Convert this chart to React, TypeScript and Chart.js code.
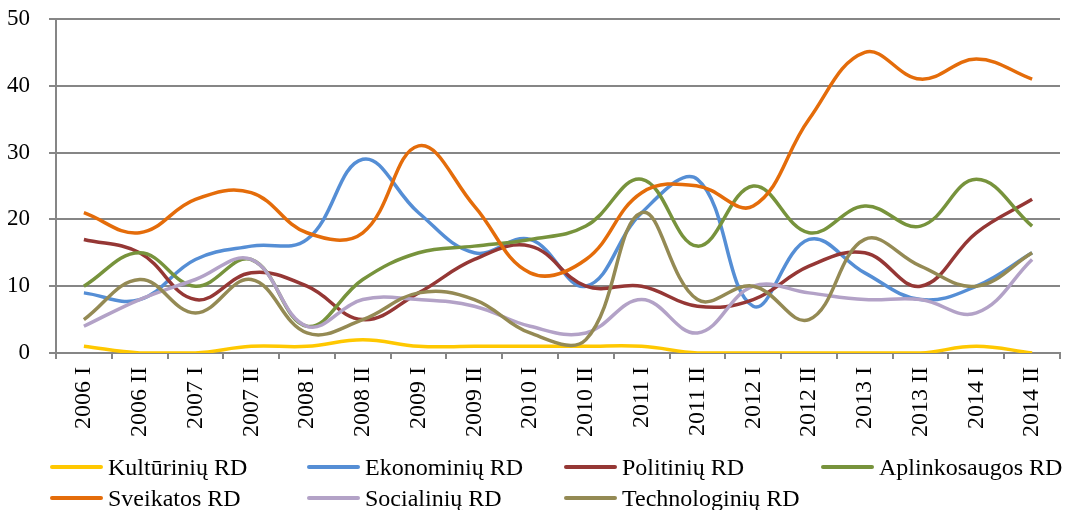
import React, { useEffect, useRef } from "react";
import { Chart, registerables } from "chart.js";

Chart.register(...registerables);

const categories = [
  "2006 I", "2006 II", "2007 I", "2007 II", "2008 I", "2008 II",
  "2009 I", "2009 II", "2010 I", "2010 II", "2011 I", "2011 II",
  "2012 I", "2012 II", "2013 I", "2013 II", "2014 I", "2014 II",
];

const kulturiniu = [1, 0, 0, 1, 1, 2, 1, 1, 1, 1, 1, 0, 0, 0, 0, 0, 1, 0];
const ekonominiu = [9, 8, 14, 16, 17, 29, 21, 15, 17, 10, 21, 26, 7, 17, 12, 8, 10, 15];
const politiniu = [17, 15, 8, 12, 10, 5, 9, 14, 16, 10, 10, 7, 8, 13, 15, 10, 18, 23];
const aplinkosaugos = [10, 15, 10, 14, 4, 11, 15, 16, 17, 19, 26, 16, 25, 18, 22, 19, 26, 19];
const sveikatos = [21, 18, 23, 24, 18, 18, 31, 22, 12, 14, 24, 25, 22, 35, 45, 41, 44, 41];
const socialiniu = [4, 8, 11, 14, 4, 8, 8, 7, 4, 3, 8, 3, 10, 9, 8, 8, 6, 14];
const technologiniu = [5, 11, 6, 11, 3, 5, 9, 8, 3, 2, 21, 8, 10, 5, 17, 13, 10, 15];

const seriesNames = [
  "Kultūrinių RD", "Ekonominių RD", "Politinių RD", "Aplinkosaugos RD",
  "Sveikatos RD", "Socialinių RD", "Technologinių RD",
];
const seriesData = [kulturiniu, ekonominiu, politiniu, aplinkosaugos, sveikatos, socialiniu, technologiniu];
const seriesColors = ["#FFC800", "#558ED5", "#953735", "#77933C", "#E46C0A", "#B3A2C7", "#948A54"];

const yTicks = [0, 10, 20, 30, 40, 50];

const FONT = '"Liberation Serif", "Times New Roman", serif';
const GRID = "#868686";

export default function App() {
  const ref = useRef<HTMLCanvasElement>(null);

  useEffect(() => {
    const canvas = ref.current;
    if (!canvas) return;
    const chart = new Chart(canvas, {
      type: "line",
      data: {
        labels: categories,
        datasets: seriesData.map((d, i) => ({
          label: seriesNames[i],
          data: d,
          borderColor: seriesColors[i],
          backgroundColor: seriesColors[i],
          borderWidth: 3.5,
          pointRadius: 0,
          tension: 0.4,
          fill: false,
          order: seriesData.length - i,
        })),
      },
      options: {
        animation: false,
        responsive: false,
        maintainAspectRatio: false,
        layout: { padding: { top: 19, right: 3, left: 0, bottom: 0 } },
        plugins: {
          legend: { display: false },
          tooltip: { enabled: false },
        },
        scales: {
          x: {
            offset: true,
            grid: {
              offset: true,
              drawOnChartArea: false,
              drawTicks: true,
              tickLength: 6,
              color: GRID,
              lineWidth: 2,
            },
            border: { color: GRID, width: 2 },
            ticks: {
              minRotation: 90,
              maxRotation: 90,
              autoSkip: false,
              padding: 8,
              color: "#000",
              font: { family: FONT, size: 24 },
            },
            afterFit: (scale: any) => {
              scale.height = 157;
            },
          },
          y: {
            min: 0,
            max: 50,
            afterBuildTicks: (scale: any) => {
              scale.ticks = yTicks.map((v) => ({ value: v }));
            },
            grid: {
              color: GRID,
              lineWidth: 2,
              tickLength: 7,
            },
            border: { color: GRID, width: 2 },
            ticks: {
              padding: 19,
              color: "#000",
              font: { family: FONT, size: 23 },
            },
            afterFit: (scale: any) => {
              scale.width = 56;
              scale.paddingTop = 12;
              scale.paddingBottom = 12;
            },
          },
        },
      },
    });
    return () => chart.destroy();
  }, []);

  return (
    <div style={{ position: "absolute", left: 0, top: 0, width: 1069, height: 510, background: "#fff" }}>
      <canvas ref={ref} width={1069} height={510} style={{ display: "block", width: 1069, height: 510 }} />
      {seriesNames.map((name, i) => {
        const col = i % 4;
        const row = Math.floor(i / 4);
        return (
          <div
            key={name}
            style={{
              position: "absolute",
              left: 50 + col * 257,
              top: 467 + row * 31 - 15,
              height: 30,
              display: "flex",
              alignItems: "center",
              fontFamily: FONT,
              fontSize: 24,
              color: "#000",
              whiteSpace: "nowrap",
            }}
          >
            <span style={{ display: "inline-block", width: 53, height: 4, borderRadius: 2, background: seriesColors[i], marginRight: 5 }} />
            <span>{name}</span>
          </div>
        );
      })}
    </div>
  );
}
